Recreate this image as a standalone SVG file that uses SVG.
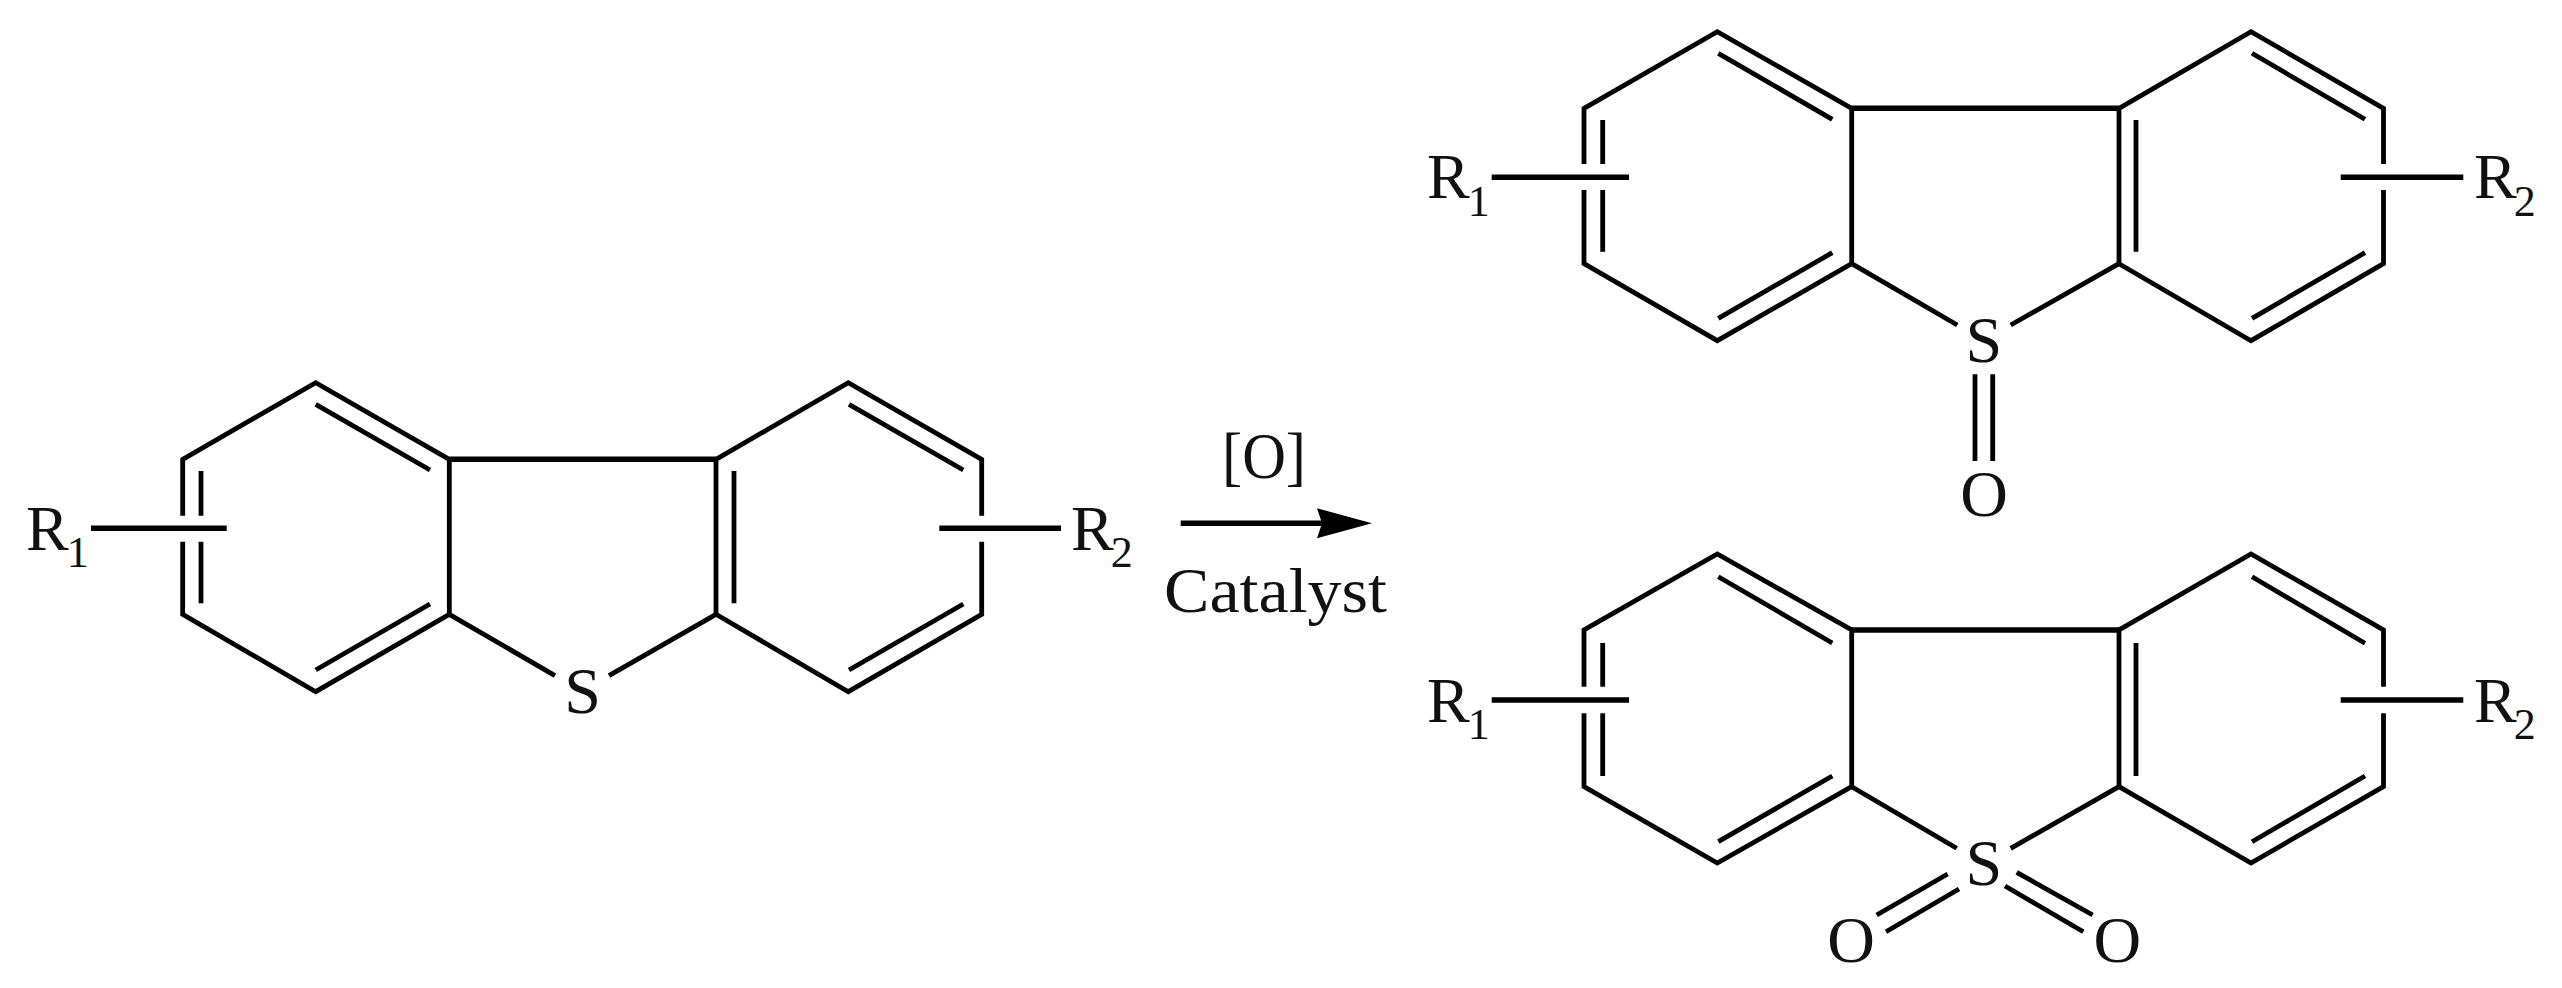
<svg xmlns="http://www.w3.org/2000/svg" width="2562" height="988" viewBox="0 0 2562 988">
<style>
.b{fill:none;stroke:#000;stroke-width:4.800;stroke-linecap:butt;stroke-linejoin:miter}
.h{fill:none;stroke:#000;stroke-width:5.600}
text{font-family:"Liberation Serif","Times New Roman",serif;font-size:64px;fill:#111}
.s{font-size:44px}
.a{font-size:66px}
.m{text-anchor:middle}
</style>
<defs>
<marker id="head" markerUnits="userSpaceOnUse" markerWidth="57" markerHeight="32" viewBox="0 0 57 32" refX="14" refY="16" orient="auto"><path d="M0 1L55 16L0 31L5 16Z" fill="#000"/></marker>
</defs>
<rect width="2562" height="988" fill="#fff"/>
<g id="connectors">
<g id="bonds-reactant">
<path class="b" d="M182.700 515.700V459.300L315.700 382.700L449.300 459.300V614.300L315.700 691.700L182.700 614.300V541.700"/>
<path class="h" d="M449.300 459.300H716"/>
<path class="b" d="M716 614.300V459.300L848.300 382.700L981.700 459.300V515.700M981.700 541.700V614.300L848.300 691.700L716 614.300"/>
<path class="b" d="M201 471V515.700M201 541.700V603.300M315.700 404.300L430 470M315.700 670L430 604M734 471V603.300M849 404.300L963.300 470M849 670L963.300 604"/>
<path class="b" d="M449.300 614.300L555 675.700M716 614.300L609 675.700"/>
<path class="h" d="M91 528.300H226.700M939.300 528.300H1061"/>
</g>
<path id="reaction-arrow" class="h" d="M1180.700 523.300H1331" marker-end="url(#head)"/>
<g id="bonds-sulfoxide">
<path class="b" d="M1584 164V108.300L1717.300 31.700L1851.700 108.300V263.700L1717.300 340.700L1584 263.700V190"/>
<path class="h" d="M1851.700 108.300H2119"/>
<path class="b" d="M2119 263.700V108.300L2251 31.700L2383.500 108.300V164M2383.500 190V263.700L2251 340.700L2119 263.700"/>
<path class="b" d="M1602.700 120V164M1602.700 190V251.700M1718.300 53.300L1832.300 119.300M1718.300 318.300L1832.300 252.700M2136 120V251.700M2252 53.300L2365 119.300M2252 318.300L2365 252.700"/>
<path class="b" d="M1851.700 263.700L1957.300 325M2119 263.700L2010.700 325M1975 374.300V461M1992.700 374.300V461"/>
<path class="h" d="M1491.700 177.300H1629M2340.700 177.300H2463.300"/>
</g>
<g id="bonds-sulfone">
<path class="b" d="M1584 686.700V630L1717.300 554L1851.700 630V786.700L1717.300 863L1584 786.700V713.300"/>
<path class="h" d="M1851.700 630H2119"/>
<path class="b" d="M2119 786.700V630L2251 554L2383.500 630V686.700M2383.500 713.300V786.700L2251 863L2119 786.700"/>
<path class="b" d="M1602.700 643V686.700M1602.700 713.300V776M1718.300 576.700L1832.300 643M1718.300 841.700L1832.300 776M2136 643V776M2252 576.700L2365 643.300M2252 841.700L2365 776"/>
<path class="b" d="M1851.700 786.700L1956.700 848.300M2119 786.700L2010.700 848.300"/>
<path class="b" d="M1947.700 874L1876.700 915M1959 889L1886 931.700M2016.700 872.300L2092.700 915M2005 886L2083.300 931.700"/>
<path class="h" d="M1491.700 700H1629M2340.700 700H2463.300"/>
</g>
</g>
<g id="node-reactant-r1"><text x="26" y="550">R<tspan class="s" dx="-2" dy="17.300">1</tspan></text></g>
<g id="node-reactant-s"><text class="m a" x="582.500" y="713">S</text></g>
<g id="node-reactant-r2"><text x="1071" y="550">R<tspan class="s" dx="-3" dy="17.300">2</tspan></text></g>
<g id="node-reagent"><text class="a" x="1222" y="478" textLength="84" lengthAdjust="spacingAndGlyphs">[O]</text></g>
<g id="node-catalyst"><text x="1164" y="611.700" textLength="223" lengthAdjust="spacingAndGlyphs">Catalyst</text></g>
<g id="node-sulfoxide-r1"><text x="1427" y="198.300">R<tspan class="s" dx="-2" dy="17.300">1</tspan></text></g>
<g id="node-sulfoxide-r2"><text x="2474" y="198.300">R<tspan class="s" dx="-3" dy="17.300">2</tspan></text></g>
<g id="node-sulfoxide-s"><text class="m a" x="1983.800" y="361.500">S</text></g>
<g id="node-sulfoxide-o"><text class="m a" x="1984" y="516">O</text></g>
<g id="node-sulfone-r1"><text x="1427" y="721.700">R<tspan class="s" dx="-2" dy="17.300">1</tspan></text></g>
<g id="node-sulfone-r2"><text x="2474" y="721.700">R<tspan class="s" dx="-3" dy="17.300">2</tspan></text></g>
<g id="node-sulfone-s"><text class="m a" x="1983.800" y="885">S</text></g>
<g id="node-sulfone-o1"><text class="m a" x="1851" y="962">O</text></g>
<g id="node-sulfone-o2"><text class="m a" x="2117.300" y="962">O</text></g>
</svg>
